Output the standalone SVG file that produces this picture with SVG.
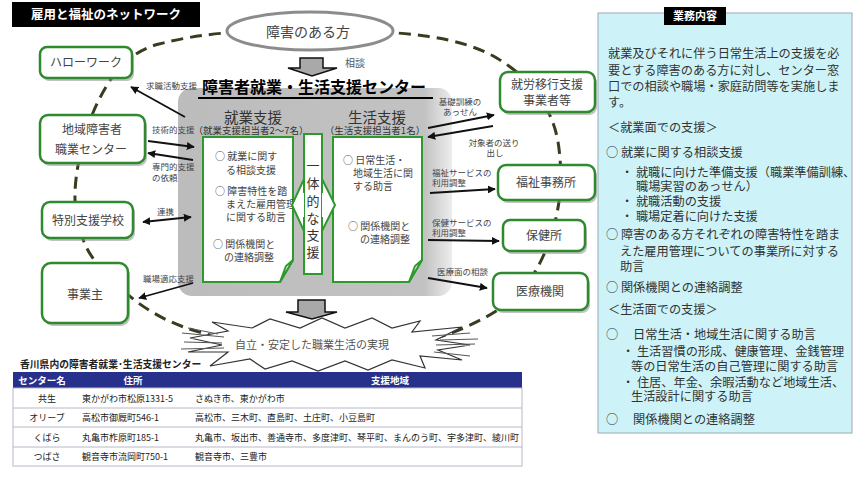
<svg xmlns="http://www.w3.org/2000/svg" width="853" height="478" viewBox="0 0 853 478">
<defs>
<style>
text{font-family:"Noto Sans CJK JP","Noto Sans",sans-serif;}
.nr{fill:#fff;stroke:#2f8a2f;stroke-width:2.5;}
.sh{fill:#8f8f8f;opacity:.55;}
.nl{font-size:12px;fill:#444;text-anchor:middle;}
.cl{font-size:8.5px;fill:#444;}
.clm{font-size:8.5px;fill:#444;text-anchor:middle;}
.cn{stroke:#111;stroke-width:1.8;fill:none;}
.doc{fill:#fff;stroke:#2e9a2e;stroke-width:2;}
.dt{font-size:10px;fill:#444;}
.pt{font-size:12.2px;fill:#333;}
.tb{font-size:9px;fill:#222;}
.th{font-size:9.5px;fill:#fff;font-weight:bold;text-anchor:middle;}
.blk{fill:#a9a9a9;stroke:#111;stroke-width:1.5;}
</style>
<marker id="ah" viewBox="0 0 10 10" refX="9" refY="5" markerWidth="8" markerHeight="8" markerUnits="userSpaceOnUse" orient="auto-start-reverse">
<path d="M0,0 L10,5 L0,10 z" fill="#111"/>
</marker>
<linearGradient id="gb" x1="0" y1="0" x2="1" y2="0">
<stop offset="0" stop-color="#bcbcbc"/>
<stop offset="0.9" stop-color="#c2c2c2"/>
<stop offset="0.95" stop-color="#d8d8d8"/>
<stop offset="1" stop-color="#ececec"/>
</linearGradient>
</defs>
<rect width="853" height="478" fill="#fff"/>

<!-- network loop -->
<path id="loop" d="M75.5,207.5 Q73,185 81.5,148.5 Q90,112 109,82 Q128,52 159,44 Q190,36 225,33 Q260,30 320,30 Q380,30 425,36 Q470,42 497.5,58.5 Q525,75 540,97.5 Q555,120 558.5,145 Q562,170 560,192.5 Q558,215 550.5,237.5 Q543,260 531.5,277.5 Q520,295 500,308.5 Q480,322 450,333.5 Q420,345 370,348.5 Q320,352 270,346 Q220,340 185,327.5 Q150,315 122.5,290 Q95,265 86.5,247.5 Q78,230 75.5,207.5 Z" fill="none" stroke="#3b3b1f" stroke-width="3" stroke-dasharray="12 7"/>

<!-- title -->
<g id="title">
<rect x="12" y="2" width="188" height="25" fill="#000"/>
<text x="106" y="19" font-size="12.5" font-weight="bold" fill="#fff" text-anchor="middle">雇用と福祉のネットワーク</text>
</g>

<!-- person -->
<g id="person">
<ellipse cx="310" cy="31" rx="83" ry="19" fill="#fff" stroke="#8c8c8c" stroke-width="3"/>
<text x="308" y="37" font-size="14" fill="#444" text-anchor="middle">障害のある方</text>
</g>

<!-- consult arrow -->
<g id="consult">
<path class="blk" d="M300,58 H323 V68 H337 L312,76 L288,68 H300 Z"/>
<text x="345" y="67" font-size="10" fill="#555">相談</text>
</g>

<!-- center -->
<g id="center">
<rect x="178" y="88" width="274" height="208" rx="14" fill="url(#gb)"/>
<text x="314" y="93" font-size="16" font-weight="bold" fill="#000" text-anchor="middle">障害者就業・生活支援センター</text>
<line x1="198" y1="98" x2="433" y2="98" stroke="#000" stroke-width="2"/>
<text x="253" y="123" font-size="14.5" fill="#333" text-anchor="middle">就業支援</text>
<text x="251" y="134" font-size="9.5" fill="#333" text-anchor="middle">（就業支援担当者2～7名）</text>
<text x="377" y="123" font-size="14.5" fill="#333" text-anchor="middle">生活支援</text>
<text x="375" y="134" font-size="9.5" fill="#333" text-anchor="middle">（生活支援担当者1名）</text>
<path class="doc" d="M203,137 H293 V260 L280,282 H203 Z"/>
<path class="doc" d="M293,260 L286,266 L280,282 Z"/>
<text class="dt" x="215" y="160">○ 就業に関す</text>
<text class="dt" x="226" y="174">る相談支援</text>
<text class="dt" x="215" y="195">○ 障害特性を踏</text>
<text class="dt" x="226" y="208">まえた雇用管理</text>
<text class="dt" x="226" y="221">に関する助言</text>
<text class="dt" x="213" y="248">○ 関係機関と</text>
<text class="dt" x="224" y="261">の連絡調整</text>
<path class="doc" d="M333,137 H422 V260 L409,282 H333 Z"/>
<path class="doc" d="M422,260 L415,266 L409,282 Z"/>
<text class="dt" x="343" y="164">○ 日常生活・</text>
<text class="dt" x="353" y="177">地域生活に関</text>
<text class="dt" x="353" y="190">する助言</text>
<text class="dt" x="348" y="230">○ 関係機関と</text>
<text class="dt" x="360" y="243">の連絡調整</text>
<rect x="304" y="134" width="18" height="140" fill="#fff" stroke="#2e9a2e" stroke-width="2"/>
<path d="M304,193 V179 L292,205 L304,231 V217" fill="#fff" stroke="#2e9a2e" stroke-width="2"/>
<path d="M322,193 V179 L335,205 L322,231 V217" fill="#fff" stroke="#2e9a2e" stroke-width="2"/>
<g font-size="13" fill="#333" text-anchor="middle">
<text x="313" y="170">一</text>
<text x="313" y="188">体</text>
<text x="313" y="206">的</text>
<text x="313" y="223">な</text>
<text x="313" y="240">支</text>
<text x="313" y="257">援</text>
</g>
</g>

<!-- result arrow and star -->
<g id="result">
<path class="blk" d="M298,300 H325 V312 H337 L312,319 L286,312 H298 Z"/>
<path d="M190,338 L228,331 L212,322 L252,328 L270,319 L300,328 L322,318 L345,328 L372,318 L392,328 L420,321 L412,332 L462,327 L436,340 L470,345 L438,350 L462,360 L420,356 L425,368 L392,360 L368,370 L345,361 L318,371 L292,361 L265,369 L250,359 L210,366 L228,352 L188,352 L222,345 Z" fill="#fff" stroke="#333" stroke-width="1.2"/>
<path d="M182,333 L224,337 M184,342 L222,343 M181,349 L224,348 M188,328 L218,334 M432,336 L470,333 M436,345 L475,344 M434,352 L470,356 M440,340 L478,339" stroke="#555" stroke-width="1" fill="none"/>
<text x="312" y="349" font-size="11" fill="#555" text-anchor="middle">自立・安定した職業生活の実現</text>
</g>

<!-- nodes -->
<g id="hellowork">
<rect class="sh" x="42" y="50" width="92" height="31" rx="7"/>
<rect class="nr" x="40" y="47" width="92" height="31" rx="7"/>
<text class="nl" x="86" y="67">ハローワーク</text>
</g>
<g id="chiiki">
<rect class="sh" x="42" y="118" width="105" height="48" rx="8"/>
<rect class="nr" x="40" y="115" width="105" height="48" rx="8"/>
<text class="nl" x="92" y="134">地域障害者</text>
<text class="nl" x="91" y="154">職業センター</text>
</g>
<g id="tokubetsu">
<rect class="sh" x="44" y="205" width="91" height="36" rx="8"/>
<rect class="nr" x="42" y="202" width="91" height="36" rx="8"/>
<text class="nl" x="88" y="225">特別支援学校</text>
</g>
<g id="jigyonushi">
<rect class="sh" x="44" y="266" width="86" height="60" rx="9"/>
<rect class="nr" x="42" y="263" width="86" height="60" rx="9"/>
<text class="nl" x="85" y="299">事業主</text>
</g>
<g id="shuro">
<rect class="sh" x="502" y="75" width="95" height="40" rx="8"/>
<rect class="nr" x="500" y="72" width="95" height="40" rx="8"/>
<text class="nl" x="547" y="89">就労移行支援</text>
<text class="nl" x="547" y="105">事業者等</text>
</g>
<g id="fukushi">
<rect class="sh" x="500" y="168" width="97" height="35" rx="8"/>
<rect class="nr" x="498" y="165" width="97" height="35" rx="8"/>
<text class="nl" x="546" y="187">福祉事務所</text>
</g>
<g id="hoken">
<rect class="sh" x="505" y="223" width="82" height="31" rx="7"/>
<rect class="nr" x="503" y="220" width="82" height="31" rx="7"/>
<text class="nl" x="544" y="240">保健所</text>
</g>
<g id="iryo">
<rect class="sh" x="495" y="276" width="95" height="37" rx="8"/>
<rect class="nr" x="493" y="273" width="95" height="37" rx="8"/>
<text class="nl" x="540" y="296">医療機関</text>
</g>

<!-- connectors -->
<g id="connectors">
<line class="cn" x1="185" y1="117" x2="131" y2="87" marker-end="url(#ah)"/>
<line class="cn" x1="148" y1="141" x2="194" y2="147" marker-end="url(#ah)"/>
<line class="cn" x1="193" y1="160" x2="148" y2="153" marker-end="url(#ah)"/>
<line class="cn" x1="143" y1="222" x2="191" y2="217" marker-start="url(#ah)" marker-end="url(#ah)"/>
<line class="cn" x1="193" y1="283" x2="139" y2="298" marker-end="url(#ah)"/>
<line class="cn" x1="428" y1="128" x2="494" y2="115" marker-end="url(#ah)"/>
<line class="cn" x1="493" y1="126" x2="428" y2="137" marker-end="url(#ah)"/>
<line class="cn" x1="430" y1="193" x2="495" y2="189" marker-end="url(#ah)"/>
<line class="cn" x1="428" y1="240" x2="499" y2="241" marker-end="url(#ah)"/>
<line class="cn" x1="428" y1="278" x2="487" y2="288" marker-end="url(#ah)"/>
<text class="cl" x="146" y="89">求職活動支援</text>
<text class="cl" x="152" y="133">技術的支援</text>
<text class="cl" x="152" y="170">専門的支援</text>
<text class="cl" x="152" y="181">の依頼</text>
<text class="cl" x="157" y="215">連携</text>
<text class="cl" x="143" y="282">職場適応支援</text>
<text class="clm" x="460" y="105">基礎訓練の</text>
<text class="clm" x="460" y="115">あっせん</text>
<text class="clm" x="494" y="146">対象者の送り</text>
<text class="clm" x="495" y="156">出し</text>
<text class="cl" x="432" y="176">福祉サービスの</text>
<text class="cl" x="432" y="186">利用調整</text>
<text class="cl" x="432" y="226">保健サービスの</text>
<text class="cl" x="432" y="236">利用調整</text>
<text class="cl" x="437" y="275">医療面の相談</text>
</g>

<!-- table -->
<g id="table">
<text x="20" y="368" font-size="9.8" font-weight="bold" fill="#222">香川県内の障害者就業･生活支援センター</text>
<rect x="13" y="372" width="509" height="16" fill="#27318b"/>
<text class="th" x="42" y="384">センター名</text>
<text class="th" x="133" y="384">住所</text>
<text class="th" x="390" y="384">支援地域</text>
<rect x="13" y="388" width="509" height="78" fill="#fff" stroke="#b8b8c8" stroke-width="1"/>
<line x1="13" y1="408" x2="522" y2="408" stroke="#b8b8c8"/>
<line x1="13" y1="427" x2="522" y2="427" stroke="#b8b8c8"/>
<line x1="13" y1="447" x2="522" y2="447" stroke="#b8b8c8"/>
<text class="tb" x="47" y="402" text-anchor="middle">共生</text>
<text class="tb" x="82" y="402">東かがわ市松原1331-5</text>
<text class="tb" x="195" y="402">さぬき市、東かがわ市</text>
<text class="tb" x="47" y="421" text-anchor="middle">オリーブ</text>
<text class="tb" x="82" y="421">高松市御厩町546-1</text>
<text class="tb" x="195" y="421">高松市、三木町、直島町、土庄町、小豆島町</text>
<text class="tb" x="47" y="441" text-anchor="middle">くばら</text>
<text class="tb" x="82" y="441">丸亀市柞原町185-1</text>
<text class="tb" x="195" y="441" font-size="8.7">丸亀市、坂出市、善通寺市、多度津町、琴平町、まんのう町、宇多津町、綾川町</text>
<text class="tb" x="47" y="460" text-anchor="middle">つばさ</text>
<text class="tb" x="82" y="460">観音寺市流岡町750-1</text>
<text class="tb" x="195" y="460">観音寺市、三豊市</text>
</g>

<!-- right panel -->
<g id="panel">
<rect x="598" y="13" width="254" height="420" fill="#cdf3f8" stroke="#9aaab0" stroke-width="1"/>
<rect x="664" y="7" width="62" height="18" fill="#000"/>
<text x="695" y="20" font-size="11" font-weight="bold" fill="#fff" text-anchor="middle">業務内容</text>
<text class="pt" x="608" y="58">就業及びそれに伴う日常生活上の支援を必</text>
<text class="pt" x="608" y="75">要とする障害のある方に対し、センター窓</text>
<text class="pt" x="608" y="91">口での相談や職場・家庭訪問等を実施しま</text>
<text class="pt" x="608" y="107">す。</text>
<text class="pt" x="608" y="132">＜就業面での支援＞</text>
<text class="pt" x="606" y="157">○ 就業に関する相談支援</text>
<text class="pt" x="621" y="177" font-size="11.8">・ 就職に向けた準備支援（職業準備訓練、</text>
<text class="pt" x="636" y="191">職場実習のあっせん）</text>
<text class="pt" x="621" y="206">・ 就職活動の支援</text>
<text class="pt" x="621" y="221">・ 職場定着に向けた支援</text>
<text class="pt" x="606" y="239">○ 障害のある方それぞれの障害特性を踏ま</text>
<text class="pt" x="620" y="256">えた雇用管理についての事業所に対する</text>
<text class="pt" x="620" y="271">助言</text>
<text class="pt" x="606" y="292">○ 関係機関との連絡調整</text>
<text class="pt" x="608" y="314">＜生活面での支援＞</text>
<text class="pt" x="606" y="339">○　 日常生活・地域生活に関する助言</text>
<text class="pt" x="622" y="356">・ 生活習慣の形成、健康管理、金銭管理</text>
<text class="pt" x="631" y="371">等の日常生活の自己管理に関する助言</text>
<text class="pt" x="622" y="387">・ 住居、年金、余暇活動など地域生活、</text>
<text class="pt" x="631" y="401">生活設計に関する助言</text>
<text class="pt" x="606" y="424">○　 関係機関との連絡調整</text>
</g>
</svg>
